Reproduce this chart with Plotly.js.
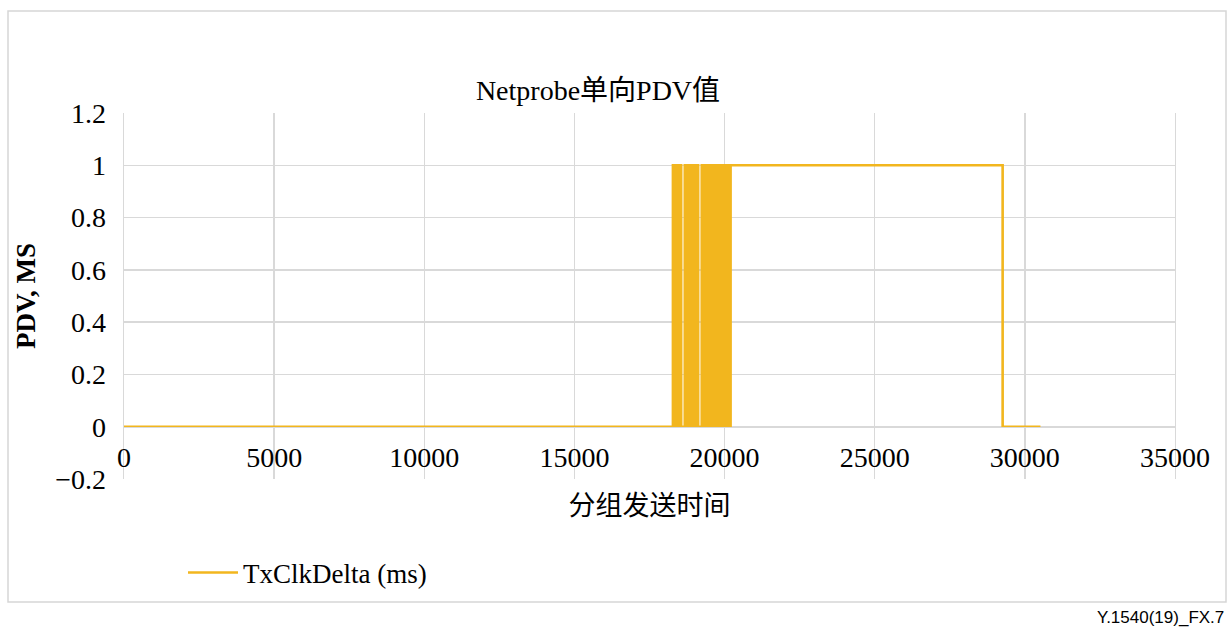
<!DOCTYPE html>
<html>
<head>
<meta charset="utf-8">
<script src="https://cdn.plot.ly/plotly-3.0.1.min.js"></script>
<style>
  html, body { margin: 0; padding: 0; background: #ffffff; }
  #chart { width: 1231px; height: 629px; }
</style>
</head>
<body>
<div id="chart"></div>
<script>
// Packet send time (ms) and the PDV value (ms)
const sendTime = [
  0,
  18280, 18320, 18360, 18400, 18440, 18480, 18520, 18555,
  18675, 18715, 18755, 18795, 18835, 18875, 18915, 18955, 18995, 19035, 19075, 19120,
  19240, 19280, 19320, 19360, 19400, 19440, 19480, 19520, 19560, 19600, 19640, 19680,
  19720, 19760, 19800, 19840, 19880, 19920, 19960, 20000, 20040, 20080, 20120, 20160, 20200,
  29260, 30520
];
const pdvValue = [
  0,
  1, 0, 1, 0, 1, 0, 1, 0,
  1, 0, 1, 0, 1, 0, 1, 0, 1, 0, 1, 0,
  1, 0, 1, 0, 1, 0, 1, 0, 1, 0, 1, 0,
  1, 0, 1, 0, 1, 0, 1, 0, 1, 0, 1, 0, 1,
  0, 0
];
const seriesName = 'TxClkDelta (ms)';
const chartTitle = 'Netprobe单向PDV值';
const xTitle = '分组发送时间';
const yTitle = 'PDV, MS';
const xTicks = [0, 5000, 10000, 15000, 20000, 25000, 30000, 35000];
const yTicks = [-0.2, 0, 0.2, 0.4, 0.6, 0.8, 1, 1.2];
const yTickText = ['\u22120.2', '0', '0.2', '0.4', '0.6', '0.8', '1', '1.2'];
const footer = 'Y.1540(19)_FX.7';

const FONT = '"Liberation Serif", "Times New Roman", "Noto Sans CJK SC", serif';
const GRID = '#d9d9d9';
const LINE = '#F2B61E';

const trace = {
  type: 'scatter',
  mode: 'lines',
  x: sendTime,
  y: pdvValue,
  name: seriesName,
  line: { color: LINE, width: 2.6, shape: 'hv' },
  hoverinfo: 'x+y'
};

const layout = {
  width: 1231,
  height: 629,
  margin: { l: 124, r: 56, t: 113, b: 150, pad: 0 },
  paper_bgcolor: '#ffffff',
  plot_bgcolor: '#ffffff',
  font: { family: FONT, size: 28, color: '#000000' },
  title: {
    text: chartTitle,
    font: { family: FONT, size: 28, color: '#000000' },
    x: 598 / 1231, xanchor: 'center', xref: 'container',
    y: 1 - 90 / 629, yanchor: 'middle', yref: 'container'
  },
  xaxis: {
    range: [0, 35000],
    tickmode: 'array',
    tickvals: xTicks,
    ticktext: xTicks.map(String),
    showgrid: true,
    gridcolor: GRID,
    gridwidth: 1.3,
    zeroline: false,
    showline: true,
    linecolor: GRID,
    linewidth: 1.3,
    ticks: '',
    anchor: 'free',
    position: 0.2 / 1.4,
    ticklabelstandoff: 5,
    tickfont: { family: FONT, size: 28, color: '#000000' },
    automargin: false,
    title: {
      text: xTitle,
      font: { family: FONT, size: 27, color: '#000000' },
      standoff: 24
    }
  },
  yaxis: {
    range: [-0.2, 1.2],
    tickmode: 'array',
    tickvals: yTicks,
    ticktext: yTickText,
    showgrid: true,
    gridcolor: GRID,
    gridwidth: 1.3,
    zeroline: false,
    showline: true,
    linecolor: GRID,
    linewidth: 1.3,
    mirror: true,
    ticks: '',
    ticklabelstandoff: 11,
    tickfont: { family: FONT, size: 28, color: '#000000' },
    automargin: false,
    title: {
      text: '<b>' + yTitle + '</b>',
      font: { family: FONT, size: 27, color: '#000000' },
      standoff: 12
    }
  },
  showlegend: true,
  legend: {
    orientation: 'h',
    x: (183 - 124) / 1051,
    xanchor: 'left',
    y: (479 - 573) / 366,
    yanchor: 'middle',
    font: { family: FONT, size: 27, color: '#000000' },
    bgcolor: 'rgba(0,0,0,0)',
    itemwidth: 50
  },
  shapes: [
    {
      type: 'rect', xref: 'paper', yref: 'paper',
      x0: (8 - 124) / 1051, x1: (1226 - 124) / 1051,
      y0: (479 - 602) / 366, y1: (479 - 11) / 366,
      line: { color: '#d6d6d6', width: 1.5 },
      fillcolor: 'rgba(0,0,0,0)',
      layer: 'below'
    }
  ],
  annotations: [
    {
      text: footer,
      xref: 'paper', yref: 'paper',
      x: (1226 - 124) / 1051, xanchor: 'right',
      y: (479 - 617) / 366, yanchor: 'middle',
      showarrow: false,
      font: { family: '"Liberation Sans", Arial, sans-serif', size: 17, color: '#000000' }
    }
  ]
};

Plotly.newPlot('chart', [trace], layout, { displayModeBar: false, staticPlot: true });
</script>
</body>
</html>
